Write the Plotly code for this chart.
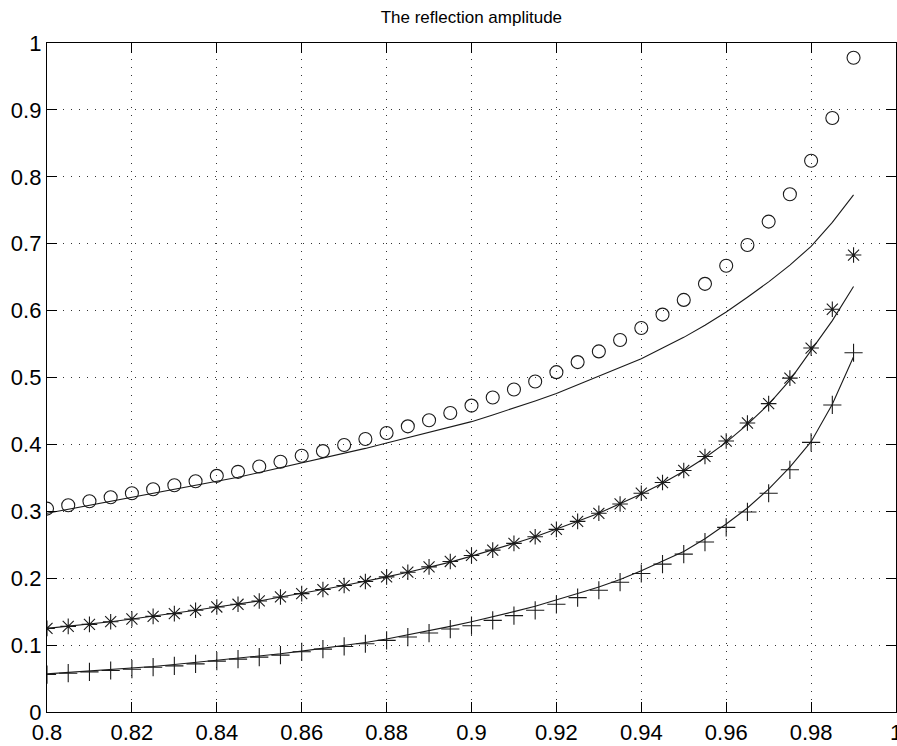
import plotly.graph_objects as go

x = [0.8, 0.805, 0.81, 0.815, 0.82, 0.825, 0.83, 0.835, 0.84, 0.845, 0.85, 0.855, 0.86,
     0.865, 0.87, 0.875, 0.88, 0.885, 0.89, 0.895, 0.9, 0.905, 0.91, 0.915, 0.92, 0.925,
     0.93, 0.935, 0.94, 0.945, 0.95, 0.955, 0.96, 0.965, 0.97, 0.975, 0.98, 0.985, 0.99]

circles = [0.304, 0.309, 0.315, 0.321, 0.327, 0.333, 0.339, 0.345, 0.353, 0.359, 0.367, 0.374, 0.383,
           0.390, 0.399, 0.408, 0.417, 0.427, 0.436, 0.447, 0.458, 0.470, 0.482, 0.494, 0.508, 0.523,
           0.539, 0.556, 0.574, 0.594, 0.616, 0.640, 0.667, 0.698, 0.733, 0.774, 0.824, 0.888, 0.978]

line_top = [0.297, 0.303, 0.309, 0.315, 0.321, 0.327, 0.332, 0.338, 0.344, 0.351, 0.358, 0.365, 0.372,
            0.379, 0.386, 0.394, 0.402, 0.410, 0.418, 0.426, 0.434, 0.444, 0.454, 0.465, 0.476, 0.489,
            0.502, 0.515, 0.528, 0.544, 0.560, 0.578, 0.598, 0.620, 0.643, 0.668, 0.696, 0.732, 0.773]

stars = [0.125, 0.128, 0.131, 0.135, 0.139, 0.143, 0.147, 0.152, 0.157, 0.161, 0.166, 0.172, 0.177,
         0.183, 0.189, 0.195, 0.202, 0.209, 0.217, 0.225, 0.234, 0.242, 0.252, 0.262, 0.273, 0.285,
         0.297, 0.311, 0.327, 0.343, 0.361, 0.382, 0.405, 0.432, 0.461, 0.499, 0.544, 0.602, 0.683]

line_mid = [0.125, 0.128, 0.131, 0.135, 0.139, 0.143, 0.147, 0.152, 0.157, 0.161, 0.166, 0.172, 0.177,
            0.183, 0.189, 0.195, 0.202, 0.209, 0.216, 0.224, 0.233, 0.242, 0.252, 0.262, 0.273, 0.285,
            0.297, 0.311, 0.326, 0.342, 0.360, 0.380, 0.403, 0.430, 0.460, 0.496, 0.540, 0.585, 0.636]

plus = [0.056, 0.058, 0.060, 0.062, 0.064, 0.067, 0.069, 0.072, 0.076, 0.079, 0.082, 0.085, 0.090,
        0.094, 0.098, 0.102, 0.107, 0.112, 0.118, 0.124, 0.129, 0.137, 0.144, 0.152, 0.161, 0.171,
        0.182, 0.194, 0.207, 0.221, 0.236, 0.254, 0.276, 0.299, 0.327, 0.362, 0.403, 0.459, 0.537]

line_bot = [0.057, 0.059, 0.061, 0.063, 0.065, 0.068, 0.071, 0.074, 0.077, 0.080, 0.083, 0.087, 0.091,
            0.095, 0.099, 0.104, 0.109, 0.115, 0.121, 0.128, 0.135, 0.142, 0.150, 0.158, 0.167, 0.177,
            0.187, 0.198, 0.211, 0.225, 0.240, 0.259, 0.281, 0.305, 0.333, 0.366, 0.404, 0.460, 0.531]

x_ticks = [0.8, 0.82, 0.84, 0.86, 0.88, 0.9, 0.92, 0.94, 0.96, 0.98, 1.0]
x_labels = ["0.8", "0.82", "0.84", "0.86", "0.88", "0.9", "0.92", "0.94", "0.96", "0.98", "1"]
y_ticks = [0, 0.1, 0.2, 0.3, 0.4, 0.5, 0.6, 0.7, 0.8, 0.9, 1.0]
y_labels = ["0", "0.1", "0.2", "0.3", "0.4", "0.5", "0.6", "0.7", "0.8", "0.9", "1"]

ink = "#1a1a1a"
fig = go.Figure()
for ys in (line_top, line_mid, line_bot):
    fig.add_trace(go.Scatter(x=x, y=ys, mode="lines", line=dict(color=ink, width=1.1),
                             showlegend=False, hoverinfo="skip"))
fig.add_trace(go.Scatter(x=x, y=circles, mode="markers", showlegend=False,
                         marker=dict(symbol="circle-open", size=13, color=ink, line=dict(width=1.1, color=ink))))
fig.add_trace(go.Scatter(x=x, y=stars, mode="markers", showlegend=False,
                         marker=dict(symbol="asterisk-open", size=13, color=ink, line=dict(width=1.1, color=ink))))
fig.add_trace(go.Scatter(x=x, y=plus, mode="markers", showlegend=False,
                         marker=dict(symbol="cross-thin-open", size=13, color=ink, line=dict(width=1.1, color=ink))))

axis_common = dict(
    showline=True, linecolor="black", linewidth=1.3, mirror="ticks",
    ticks="inside", ticklen=10, tickcolor="black", tickwidth=1,
    showgrid=True, gridcolor="#333333", griddash="1px,7px", gridwidth=1,
    zeroline=False, automargin=False, ticklabeloverflow="allow",
    tickfont=dict(family="Liberation Sans, Arial, sans-serif", size=22, color="black"),
)
fig.update_xaxes(range=[0.8, 1.0], tickmode="array", tickvals=x_ticks, ticktext=x_labels, **axis_common)
fig.update_yaxes(range=[0, 1.0], tickmode="array", tickvals=y_ticks, ticktext=y_labels, **axis_common)

fig.update_layout(
    width=897, height=746,
    margin=dict(l=47, r=1, t=43, b=34),
    paper_bgcolor="white", plot_bgcolor="white",
    title=dict(text="The reflection amplitude", x=0.5255, xanchor="center", y=0.985, yanchor="top",
               font=dict(family="Liberation Sans, Arial, sans-serif", size=17, color="black")),
)

fig.write_html("out.html", config={"displayModeBar": False},
               post_script="document.body.style.margin='0';document.body.style.overflow='hidden';")
